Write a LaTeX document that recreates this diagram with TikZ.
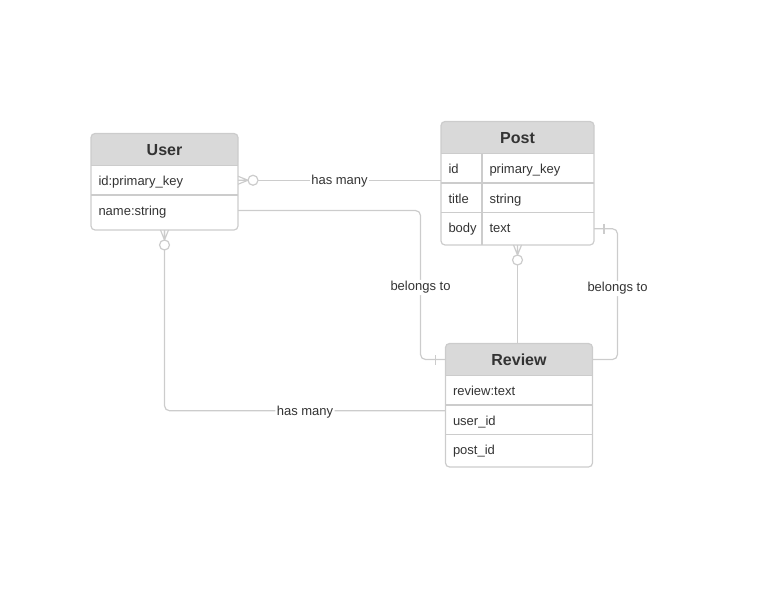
\documentclass[tikz,border=0pt]{standalone}
\usepackage{fontspec}
\setmainfont{Liberation Sans}
\usetikzlibrary{matrix,positioning,backgrounds}

\definecolor{hdgray}{RGB}{217,217,217}
\definecolor{linegray}{RGB}{204,204,204}
\definecolor{txtgray}{RGB}{51,51,51}

\begin{document}
\begin{tikzpicture}[x=1pt, y=-1pt,
	head/.style={minimum height=32pt, inner sep=0pt, outer sep=0pt, anchor=north west,
		text height=11.5pt, text depth=0pt, text=txtgray, font=\fontsize{16}{19}\selectfont\bfseries},
	cell/.style={text=txtgray, font=\fontsize{13}{15}\selectfont, align=left, inner xsep=7.5pt,
		inner ysep=6.75pt, text height=13.5pt, text depth=2.5pt, outer sep=0pt},
	fields/.style={matrix of nodes, inner sep=0pt, outer sep=0pt, column sep=0pt, row sep=0pt, nodes={cell}},
	border/.style={draw=linegray, line width=1.2pt, rounded corners=4pt},
	sep/.style={draw=linegray, line width=1.2pt},
	conn/.style={draw=linegray, line width=1.2pt},
	lbl/.style={fill=white, text=txtgray, font=\fontsize{13}{15}\selectfont, inner sep=1.5pt, yshift=-1pt},
	zmany/.pic={\draw[conn] (0,-4) -- (10,0) -- (0,4) (0,0) -- (10,0);
		\draw[conn, fill=white] (15,0) circle (5pt);},
	onemark/.pic={\draw[conn] (10,-5) -- (10,5);}]
	\useasboundingbox (0,0) rectangle (767,596);

	% tables
	\node[head, minimum width=147pt] (user) at (91,133.5) {User};
	\matrix (user-f) [fields, below=0pt of user, row 2/.style={nodes={text depth=8pt}}]
	{   |[text width=132pt]| id:primary\_key \\
	    |[text width=132pt]| name:string \\ };

	\node[head, minimum width=153pt] (post) at (441,121.5) {Post};
	\matrix (post-f) [fields, below=0pt of post, row 3/.style={nodes={text depth=5.5pt}},
		column 1/.style={nodes={text width=26pt}}, column 2/.style={nodes={text width=97pt}}]
	{   id    & primary\_key \\
	    title & string \\
	    body  & text \\ };

	\node[head, minimum width=147pt] (review) at (445.5,343.5) {Review};
	\matrix (review-f) [fields, below=0pt of review, row 3/.style={nodes={text depth=5.5pt}},
		nodes={text width=132pt}]
	{   review:text \\
	    user\_id \\
	    post\_id \\ };

	\begin{scope}[on background layer]
	\foreach \t in {user,post,review} {
		\fill[hdgray, rounded corners=4pt] (\t.north west) rectangle (\t.south east);
		\fill[hdgray] (\t.west) rectangle (\t.south east);
	}
	\end{scope}
	\foreach \t in {user,post,review}
		\draw[sep] (\t.south west) -- (\t.south east);
	\draw[sep] (user-f-1-1.south west) -- (user-f-1-1.south east);
	\foreach \r in {1,2} {
		\draw[sep] (post-f-\r-1.south west) -- (post-f-\r-2.south east);
		\draw[sep] (review-f-\r-1.south west) -- (review-f-\r-1.south east);
	}
	\draw[sep] (post-f-1-1.north east) -- (post-f-3-1.south east);
	\foreach \t in {user,post,review}
		\draw[border] (\t.north west) rectangle (\t-f.south east);

	% relations
	\draw[conn] (user-f-1-1.east) -- (user-f-1-1.east -| post-f-1-1.west)
		node[lbl, midway] {has many};
	\pic at (user-f-1-1.east) {zmany};

	\draw[conn, rounded corners=5pt] ([yshift=2pt]user-f-2-1.east) -| node[lbl, pos=0.755] {belongs to}
		([xshift=-25pt]review.west) -- (review.west);
	\pic[rotate=180] at (review.west) {onemark};

	\draw[conn] (post-f.south) -- (post-f.south |- review.north);
	\pic[rotate=-90] at (post-f.south) {zmany};

	\draw[conn, rounded corners=5pt] (post-f-3-2.east) -| node[lbl, pos=0.725] {belongs to}
		([xshift=25pt]review.east) -- (review.east);
	\pic at (post-f-3-2.east) {onemark};

	\draw[conn, rounded corners=5pt] (user-f.south) |- node[lbl, pos=0.75] {has many}
		([yshift=9pt]review-f-2-1.west);
	\pic[rotate=-90] at (user-f.south) {zmany};
\end{tikzpicture}
\end{document}
